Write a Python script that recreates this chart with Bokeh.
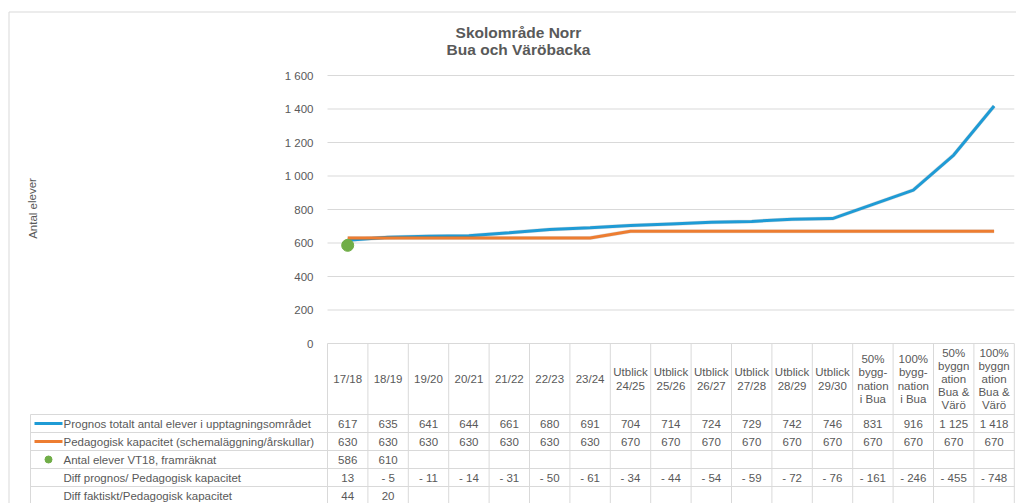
from bokeh.plotting import figure
from bokeh.models import Range1d
from bokeh.core.properties import value
from bokeh.embed import file_html
from bokeh.resources import INLINE

# ---------------- data ----------------
categories = ["17/18", "18/19", "19/20", "20/21", "21/22", "22/23", "23/24",
              "Utblick\n24/25", "Utblick\n25/26", "Utblick\n26/27", "Utblick\n27/28",
              "Utblick\n28/29", "Utblick\n29/30",
              "50%\nbygg-\nnation\ni Bua", "100%\nbygg-\nnation\ni Bua",
              "50%\nbyggn\nation\nBua &\nVärö", "100%\nbyggn\nation\nBua &\nVärö"]
prognos = [617, 635, 641, 644, 661, 680, 691, 704, 714, 724, 729, 742, 746, 831, 916, 1125, 1418]
kapacitet = [630, 630, 630, 630, 630, 630, 630, 670, 670, 670, 670, 670, 670, 670, 670, 670, 670]
antal_vt18 = [586, 610]
antal_vt18_plotted = [586]
diff_prognos = [13, -5, -11, -14, -31, -50, -61, -34, -44, -54, -59, -72, -76, -161, -246, -455, -748]
diff_faktiskt = [44, 20]
y_ticks = [0, 200, 400, 600, 800, 1000, 1200, 1400, 1600]
row_labels = ["Prognos totalt antal elever i upptagningsområdet",
              "Pedagogisk kapacitet (schemaläggning/årskullar)",
              "Antal elever VT18, framräknat",
              "Diff prognos/ Pedagogisk kapacitet",
              "Diff faktiskt/Pedagogisk kapacitet"]
title_lines = ["Skolområde Norr", "Bua och Väröbacka"]
y_label = "Antal elever"

BLUE = "#1F9BD5"
ORANGE = "#ED7D31"
GREEN = "#70AD47"
GRID = "#d9d9d9"
TXT = "#595959"
FONT = value("Liberation Sans")


def fmt(n):
    s = f"{abs(n):,}".replace(",", " ")
    return s if n >= 0 else "- " + s


# ---------------- geometry (page px) ----------------
W, H = 1016, 503
COL0 = 327
COLW = 40.4
Y0 = 343
SC = 268 / 1600.0

p = figure(width=W, height=H,
           x_range=Range1d(-COL0 / COLW, (W - COL0) / COLW),
           y_range=Range1d(-(H - Y0) / SC, Y0 / SC),
           output_backend="svg", toolbar_location=None,
           x_axis_location=None, y_axis_location=None,
           min_border=0, outline_line_color=None)
p.grid.visible = False
p.extra_x_ranges = {"px": Range1d(0, W)}
p.extra_y_ranges = {"py": Range1d(H, 0)}

n = len(categories)
xs = [i + 0.5 for i in range(n)]

# outer chart border
p.segment(x0=[8.5, 8.5], y0=[11.5, 11.5], x1=[8.5, W], y1=[H, 11.5],
          x_range_name="px", y_range_name="py", line_color=GRID, line_width=1)

# gridlines
p.segment(x0=[0] * len(y_ticks), x1=[n] * len(y_ticks), y0=y_ticks, y1=y_ticks,
          line_color=GRID, line_width=1)

# y tick labels
p.text(x=[313] * len(y_ticks), y=y_ticks, text=[fmt(t) for t in y_ticks],
       x_range_name="px", text_align="right", text_baseline="middle",
       text_font=FONT, text_font_size="11.5px", text_color=TXT)

# titles
p.text(x=[518, 518], y=[32, 49], text=title_lines,
       x_range_name="px", y_range_name="py", text_align="center", text_baseline="middle",
       text_font=FONT, text_font_size="15.5px", text_font_style="bold", text_color=TXT)

# y axis label
p.text(x=[32], y=[208], text=[y_label], angle=1.5708,
       x_range_name="px", y_range_name="py", text_align="center", text_baseline="middle",
       text_font=FONT, text_font_size="11.5px", text_color=TXT)

# series (with soft shadow like the original)
p.line(xs, prognos, line_color="#000000", line_alpha=0.12, line_width=4)
p.line(xs, prognos, line_color=BLUE, line_width=3)
p.line(xs, kapacitet, line_color="#000000", line_alpha=0.12, line_width=4)
p.line(xs, kapacitet, line_color=ORANGE, line_width=3)
p.scatter(xs[:len(antal_vt18_plotted)], antal_vt18_plotted, size=12,
          fill_color=GREEN, line_color=GREEN)

# ---------------- data table ----------------
HDR_TOP = 343
HDR_BOT = 414
ROWH = 18
row_lines = [HDR_BOT + ROWH * k for k in range(5)]
row_centers = [HDR_BOT + ROWH * (k + 0.5) for k in range(5)]
LEFT = 30
RIGHT = 1014

p.segment(x0=[LEFT] * len(row_lines), x1=[RIGHT] * len(row_lines), y0=row_lines, y1=row_lines,
          x_range_name="px", y_range_name="py", line_color=GRID, line_width=1)
p.segment(x0=[LEFT], x1=[LEFT], y0=[HDR_BOT], y1=[H],
          x_range_name="px", y_range_name="py", line_color=GRID, line_width=1)
p.segment(x0=list(range(n + 1)), x1=list(range(n + 1)), y0=[HDR_TOP] * (n + 1), y1=[H] * (n + 1),
          y_range_name="py", line_color=GRID, line_width=1)

# header
p.text(x=xs, y=[(HDR_TOP + HDR_BOT) / 2] * n, text=categories,
       y_range_name="py", text_align="center", text_baseline="middle",
       text_font=FONT, text_font_size="11.5px", text_color=TXT, text_line_height=1.1)

# row labels + legend keys
p.text(x=[63] * len(row_labels), y=row_centers, text=row_labels,
       x_range_name="px", y_range_name="py", text_align="left", text_baseline="middle",
       text_font=FONT, text_font_size="11.5px", text_color=TXT)
p.segment(x0=[34, 34], x1=[62, 62], y0=row_centers[:2], y1=row_centers[:2],
          x_range_name="px", y_range_name="py", line_color=[BLUE, ORANGE], line_width=3)
p.scatter(x=[48], y=[row_centers[2]], x_range_name="px", y_range_name="py",
          size=7, fill_color=GREEN, line_color=GREEN)

rows = [[fmt(v) for v in prognos],
        [fmt(v) for v in kapacitet],
        [fmt(v) for v in antal_vt18],
        [fmt(v) for v in diff_prognos],
        [fmt(v) for v in diff_faktiskt]]
for r, vals in enumerate(rows):
    p.text(x=xs[:len(vals)], y=[row_centers[r]] * len(vals), text=vals,
           y_range_name="py", text_align="center", text_baseline="middle",
           text_font=FONT, text_font_size="11.5px", text_color=TXT)

open("out.html", "w").write(file_html(p, INLINE))
